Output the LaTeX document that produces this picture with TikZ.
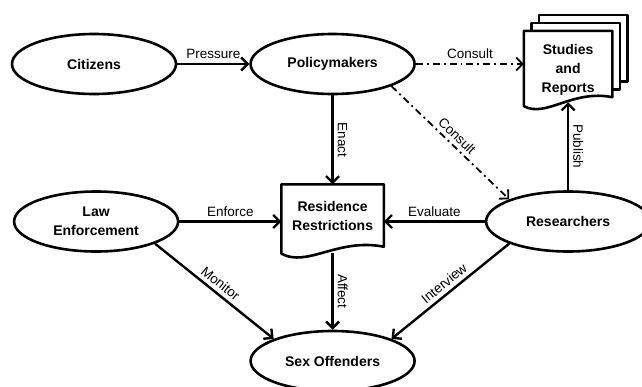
\documentclass[tikz,border=0pt]{standalone}
\usepackage{fontspec}
\setmainfont{Liberation Sans}
\usetikzlibrary{arrows.meta, backgrounds, positioning, shapes.geometric}

\begin{document}
\begin{tikzpicture}[x=1pt, y=-1pt,
    actor/.style={draw, ellipse, line width=2.6pt, minimum width=164pt, minimum height=60pt, inner sep=0pt, align=center, font=\fontsize{14}{19}\selectfont\bfseries},
    doc/.style={rectangle, inner sep=0pt, align=center, font=\fontsize{14}{19}\selectfont\bfseries},
    page/.style={line width=2.6pt, line join=round, fill=white},
    flow/.style={line width=2.4pt, -{Straight Barb[length=6.5pt, width=13pt]}},
    consult/.style={flow, line width=1.8pt, dash pattern=on 7pt off 4pt on 1.8pt off 4pt},
    lbl/.style={font=\fontsize{13.5}{16}\selectfont, inner sep=4pt}]

    \useasboundingbox (0,0) rectangle (642,386);

    \node[actor]                                         (Citizens)     at (94,64) {Citizens};
    \node[actor, right=72pt of Citizens]                 (Policymakers) {Policymakers};
    \node[doc, right=108pt of Policymakers, yshift=-6pt,
          minimum width=88pt, minimum height=78pt]       (Studies)      {Studies\\and\\Reports};
    \node[doc, below=89pt of Policymakers,
          minimum width=102pt, minimum height=62pt]      (Residence Restrictions) {Residence\\Restrictions};
    \node[actor, left=102pt of Residence Restrictions, yshift=-6pt]  (Law Enforcement) {Law\\Enforcement};
    \node[actor, right=101pt of Residence Restrictions, yshift=-6pt] (Researchers)     {Researchers};
    \node[actor, below=83pt of Residence Restrictions]   (Sex Offenders) {Sex Offenders};

    \begin{scope}[on background layer]
        \foreach \s in {2,1}
            \draw[page] ([shift={(7.5*\s,-8*\s)}]Studies.north west) rectangle ([shift={(7.5*\s,-8*\s-12)}]Studies.south east);
        \draw[page] ([yshift=3pt]Studies.south west) -- (Studies.north west) -- (Studies.north east)
            -- ([yshift=12pt]Studies.south east) .. controls +(-40,-8) and +(22,12) .. ([yshift=3pt]Studies.south west) -- cycle;
        \draw[page] ([yshift=-7pt]Residence Restrictions.south west) -- (Residence Restrictions.north west)
            -- (Residence Restrictions.north east) -- (Residence Restrictions.south east)
            .. controls +(-46,-9) and +(26,14) .. ([yshift=-7pt]Residence Restrictions.south west) -- cycle;
    \end{scope}

    \draw[flow] (Citizens) -- node[lbl, above] {Pressure} (Policymakers);
    \draw[consult] (Policymakers.east) -- node[lbl, above] {Consult} (Policymakers.east -| Studies.west);
    \draw[consult] (Policymakers.south east) -- node[lbl, sloped, above] {Consult} (Researchers.north west);
    \draw[flow] (Policymakers) -- node[lbl, above, rotate=-90] {Enact} (Residence Restrictions);
    \draw[flow] (Law Enforcement.east) -- node[lbl, above] {Enforce} (Law Enforcement.east -| Residence Restrictions.west);
    \draw[flow] (Researchers.west) -- node[lbl, above] {Evaluate} (Researchers.west -| Residence Restrictions.east);
    \draw[flow] (Researchers) -- node[lbl, above, rotate=-90] {Publish} ([yshift=7pt]Studies.south);
    \draw[flow] ([yshift=-6pt]Residence Restrictions.south) -- node[lbl, above, rotate=-90] {Affect} (Sex Offenders);
    \draw[flow] (Law Enforcement.south east) -- node[lbl, sloped, above] {Monitor} (Sex Offenders.north west);
    \draw[flow] (Researchers.south west) -- node[lbl, sloped, above] {Interview} (Sex Offenders.north east);
\end{tikzpicture}
\end{document}
